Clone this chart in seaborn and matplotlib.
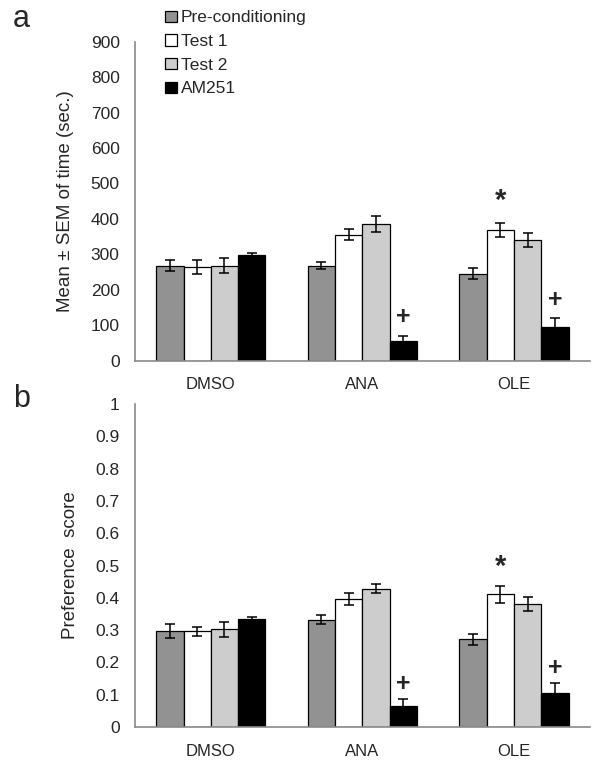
import numpy as np
import pandas as pd
import matplotlib
matplotlib.use('Agg')
import matplotlib.pyplot as plt
import seaborn as sns

groups = ['DMSO', 'ANA', 'OLE']
conditions = ['Pre-conditioning', 'Test 1', 'Test 2', 'AM251']
colors = ['#929292', '#ffffff', '#cdcdcd', '#000000']

# panel a: time (sec.)
time_pre = [268, 268, 246]
time_t1 = [265, 356, 368]
time_t2 = [268, 385, 341]
time_am = [298, 57, 94]
time_pre_sem = [15, 10, 15]
time_t1_sem = [20, 16, 20]
time_t2_sem = [21, 23, 20]
time_am_sem = [7, 14, 26]

# panel b: preference score
score_pre = [0.298, 0.332, 0.272]
score_t1 = [0.296, 0.397, 0.411]
score_t2 = [0.302, 0.428, 0.381]
score_am = [0.333, 0.065, 0.104]
score_pre_sem = [0.022, 0.014, 0.017]
score_t1_sem = [0.015, 0.019, 0.026]
score_t2_sem = [0.023, 0.014, 0.021]
score_am_sem = [0.008, 0.022, 0.033]

# significance marks: (group, condition, symbol)
marks = [('OLE', 'Test 1', '*'), ('ANA', 'AM251', '+'), ('OLE', 'AM251', '+')]


def long_df(series, sems):
    rows = []
    for cond, vals, errs in zip(conditions, series, sems):
        for g, v, e in zip(groups, vals, errs):
            rows.append({'group': g, 'cond': cond, 'value': v, 'sem': e})
    return pd.DataFrame(rows)


sns.set_style('white')
plt.rcParams['font.family'] = ['Liberation Sans', 'DejaVu Sans']
plt.rcParams['font.size'] = 12

fig = plt.figure(figsize=(6, 7.71), dpi=100)
ax1 = fig.add_axes([0.225, 0.532, 0.758, 0.414])
ax2 = fig.add_axes([0.225, 0.057, 0.758, 0.419])

spine_col = '#8a8a8a'


def draw(ax, df, ymax, ystep, fmt, offs):
    sns.barplot(data=df, x='group', y='value', hue='cond', order=groups,
                hue_order=conditions, palette=colors, errorbar=None,
                edgecolor='black', linewidth=0.9, width=0.72, saturation=1,
                ax=ax, legend=True)
    # error bars at the bar centres
    for cond, cont in zip(conditions, ax.containers):
        sub = df[df['cond'] == cond].set_index('group').loc[groups]
        xs = [b.get_x() + b.get_width() / 2 for b in cont]
        ax.errorbar(xs, sub['value'], yerr=sub['sem'], fmt='none',
                    ecolor='black', elinewidth=1.1, capsize=3.5, capthick=1.1,
                    zorder=3)
    # significance symbols
    for g, cond, sym in marks:
        ci = conditions.index(cond)
        gi = groups.index(g)
        b = ax.containers[ci][gi]
        row = df[(df['group'] == g) & (df['cond'] == cond)].iloc[0]
        y = row['value'] + row['sem'] + offs[sym]
        ax.text(b.get_x() + b.get_width() / 2, y, sym, ha='center',
                va='center', fontsize=21 if sym == '*' else 18,
                fontweight='bold')
    ax.set_xlim(-0.5, 2.5)
    ax.set_ylim(0, ymax)
    ticks = np.arange(0, ymax + ystep / 2, ystep)
    ax.set_yticks(ticks)
    ax.set_yticklabels([fmt(v) for v in ticks])
    ax.set_xticks([0, 1, 2])
    ax.set_xticks([-0.5, 0.5, 1.5, 2.5], minor=True)
    ax.tick_params(axis='x', which='major', length=0, pad=12, labelsize=12)
    ax.tick_params(axis='x', which='minor', length=5, color=spine_col,
                   direction='out', width=1)
    ax.tick_params(axis='y', length=5, color=spine_col, direction='out',
                   width=1, labelsize=12.5, pad=6)
    ax.set_xlabel('')
    for s in ['top', 'right']:
        ax.spines[s].set_visible(False)
    for s in ['left', 'bottom']:
        ax.spines[s].set_color(spine_col)
        ax.spines[s].set_linewidth(1.2)
    ax.grid(False)


draw(ax1, long_df([time_pre, time_t1, time_t2, time_am],
                  [time_pre_sem, time_t1_sem, time_t2_sem, time_am_sem]),
     900, 100, lambda v: '%d' % v, {'*': 62, '+': 52})
draw(ax2, long_df([score_pre, score_t1, score_t2, score_am],
                  [score_pre_sem, score_t1_sem, score_t2_sem, score_am_sem]),
     1.0, 0.1, lambda v: '0' if v == 0 else ('1' if abs(v - 1) < 1e-9 else '%.1f' % v),
     {'*': 0.06, '+': 0.045})

handles, labels = ax1.get_legend_handles_labels()
ax1.get_legend().remove()
ax2.get_legend().remove()
fig.legend(handles, labels, loc='upper left', bbox_to_anchor=(0.258, 1.0),
           frameon=False, fontsize=12.5, handlelength=0.65, handleheight=0.65,
           handletextpad=0.25, labelspacing=0.5, borderaxespad=0.2)

ax1.set_ylabel('Mean ± SEM of time (sec.)', fontsize=13.5, labelpad=12)
ax2.set_ylabel('Preference  score', fontsize=13.5, labelpad=12)

fig.text(0.022, 0.976, 'a', fontsize=22, va='center', ha='left')
fig.text(0.022, 0.483, 'b', fontsize=22, va='center', ha='left')

fig.savefig('out.png', dpi=100)
